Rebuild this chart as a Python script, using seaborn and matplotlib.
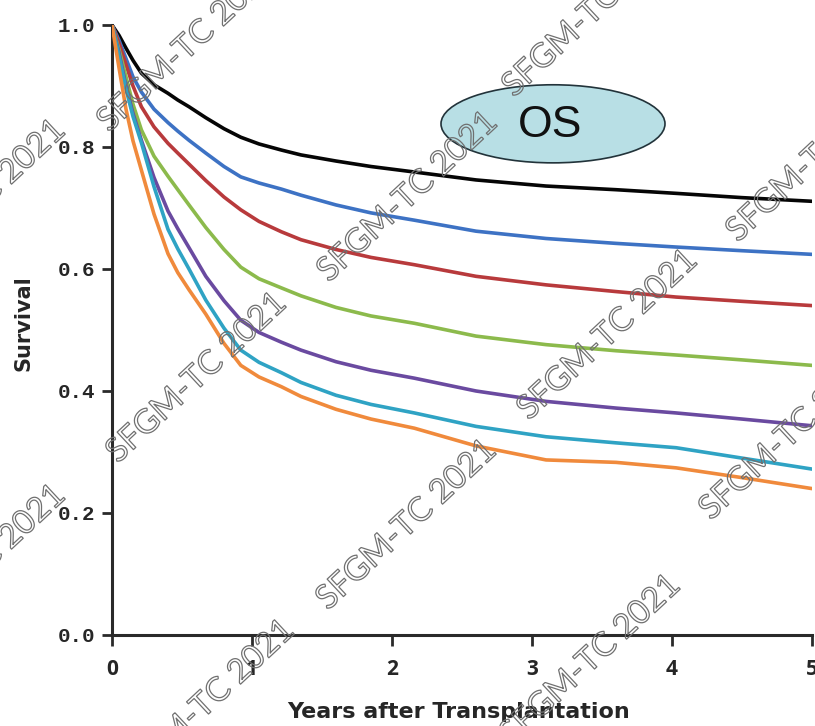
import numpy as np
import pandas as pd
import matplotlib
matplotlib.use("Agg")
import matplotlib.pyplot as plt
import matplotlib.patheffects as pe
from matplotlib.patches import Ellipse
import seaborn as sns

# ---- data ----
years = [0, 0.05, 0.1, 0.15, 0.21, 0.3, 0.4, 0.47, 0.55, 0.67, 0.8, 0.92, 1.05, 1.21,
         1.35, 1.6, 1.85, 2.16, 2.6, 3.1, 3.6, 4.03, 4.5, 5.0]
black = [1.0, 0.983, 0.962, 0.942, 0.921, 0.902, 0.888, 0.877, 0.866, 0.848, 0.830, 0.816, 0.805, 0.795,
         0.787, 0.777, 0.768, 0.759, 0.746, 0.736, 0.730, 0.724, 0.717, 0.711]
blue = [1.0, 0.975, 0.945, 0.915, 0.890, 0.862, 0.840, 0.826, 0.811, 0.790, 0.768, 0.751, 0.741, 0.731,
        0.721, 0.705, 0.692, 0.680, 0.662, 0.650, 0.642, 0.636, 0.630, 0.624]
red = [1.0, 0.970, 0.935, 0.900, 0.866, 0.833, 0.806, 0.790, 0.772, 0.745, 0.718, 0.697, 0.678, 0.661,
       0.648, 0.632, 0.619, 0.607, 0.588, 0.574, 0.563, 0.554, 0.547, 0.540]
green = [1.0, 0.960, 0.915, 0.870, 0.828, 0.785, 0.752, 0.730, 0.705, 0.668, 0.632, 0.603, 0.584, 0.569,
         0.556, 0.537, 0.523, 0.511, 0.490, 0.476, 0.466, 0.459, 0.451, 0.442]
purple = [1.0, 0.955, 0.900, 0.855, 0.811, 0.750, 0.695, 0.666, 0.635, 0.588, 0.548, 0.516, 0.496, 0.480,
          0.467, 0.448, 0.434, 0.421, 0.400, 0.383, 0.372, 0.364, 0.354, 0.343]
cyan = [1.0, 0.950, 0.895, 0.850, 0.807, 0.735, 0.665, 0.633, 0.600, 0.549, 0.503, 0.467, 0.447, 0.430,
        0.414, 0.393, 0.378, 0.364, 0.342, 0.325, 0.315, 0.307, 0.290, 0.272]
orange = [1.0, 0.930, 0.862, 0.810, 0.762, 0.690, 0.625, 0.594, 0.566, 0.526, 0.478, 0.442, 0.423, 0.407,
          0.391, 0.370, 0.354, 0.339, 0.310, 0.287, 0.283, 0.274, 0.258, 0.240]

groups = ["G1", "G2", "G3", "G4", "G5", "G6", "G7"]
series = [black, blue, red, green, purple, cyan, orange]
colors = ["#050505", "#3d72c4", "#b83a3c", "#8cba4c", "#6a4aa0", "#2fa3c4", "#f08a3c"]

x_ticks = [0, 1, 2, 3, 4, 5]
y_ticks = [0.0, 0.2, 0.4, 0.6, 0.8, 1.0]
y_ticklabels = ["0.0", "0.2", "0.4", "0.6", "0.8", "1.0"]

df = pd.DataFrame({
    "years": np.tile(years, len(groups)),
    "survival": np.concatenate(series),
    "group": np.repeat(groups, len(years)),
})

sns.set_style("white")
plt.rcParams["font.family"] = ["DejaVu Sans"]

fig = plt.figure(figsize=(8.15, 7.26), dpi=100)
ax = fig.add_axes([112 / 815, 1 - 635 / 726, 700 / 815, 610 / 726])

sns.lineplot(data=df, x="years", y="survival", hue="group",
             palette=dict(zip(groups, colors)), linewidth=2.6,
             legend=False, ax=ax, zorder=3)

ax.set_xlim(0, 5)
ax.set_ylim(0, 1.0)
ax.set_xticks(x_ticks)
ax.set_yticks(y_ticks)
ax.set_yticklabels(y_ticklabels, family="Liberation Mono", fontweight="bold",
                   fontsize=15, color="#262626")
ax.set_xticklabels([str(t) for t in x_ticks], family="Open Sans", fontweight="bold",
                   fontsize=15, color="#262626")
for s in ["top", "right"]:
    ax.spines[s].set_visible(False)
for s in ["left", "bottom"]:
    ax.spines[s].set_linewidth(2.2)
    ax.spines[s].set_color("#2a2a2a")
ax.tick_params(axis="y", direction="out", length=7, width=2, color="#2a2a2a", pad=5, left=True)
ax.tick_params(axis="x", direction="out", length=8, width=2, color="#2a2a2a", pad=9, bottom=True)
ax.set_xlabel("Years after Transplantation", family="DejaVu Sans", fontweight="bold",
              fontsize=16, color="#262626")
ax.xaxis.set_label_coords(0.495, -0.11)
ax.set_ylabel("Survival", family="DejaVu Sans", fontweight="bold", fontsize=15,
              color="#262626")
ax.yaxis.set_label_coords(-0.112, 0.512)
ax.patch.set_alpha(0)

# OS label
ell = Ellipse((3.15, 0.838), 1.6, 0.128, facecolor="#b8dfe5", edgecolor="#22333a",
              linewidth=1.2, zorder=4)
ax.add_patch(ell)
ax.text(3.13, 0.836, "OS", ha="center", va="center", fontsize=32,
        family="Liberation Sans", color="#111111", zorder=5)

# watermarks (pixel centres)
marks = [(188, 47), (593, 12), (408, 197), (817, 157), (608, 335), (197, 378),
         (407, 525), (790, 435), (-24, 205), (-24, 570), (205, 705), (591, 660)]
for (px, py) in marks:
    fig.text(px / 815, 1 - py / 726, "SFGM-TC 2021", rotation=43,
             rotation_mode="anchor", ha="center", va="center", fontsize=24,
             family="Lato", color=(1, 1, 1, 0), zorder=10,
             path_effects=[pe.Stroke(linewidth=0.9, foreground="#707070")])

fig.savefig("out.png", dpi=100)
